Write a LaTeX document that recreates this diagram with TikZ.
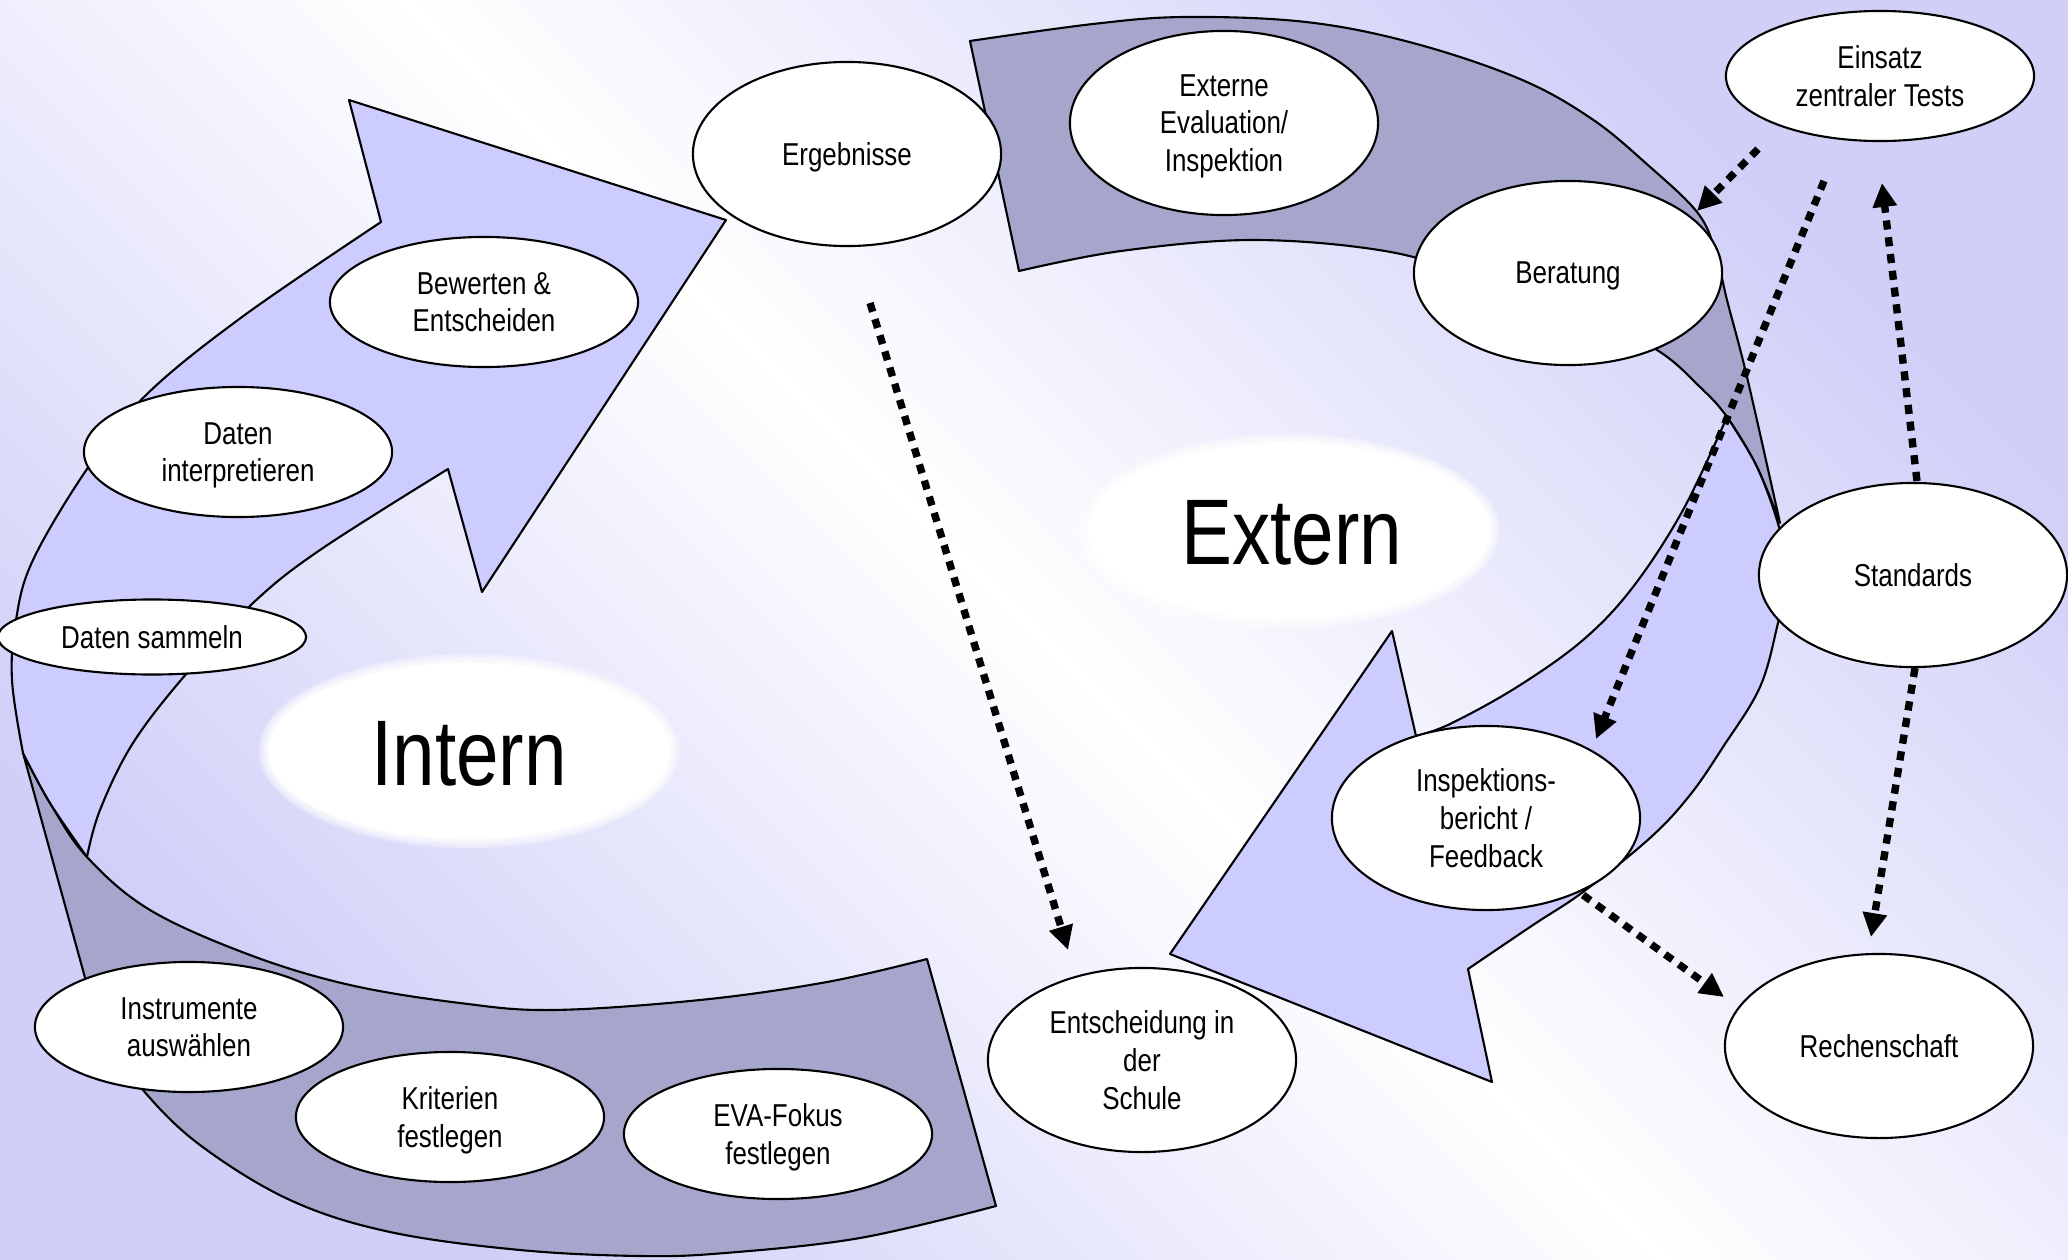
\documentclass[tikz,border=0pt]{standalone}
\usepackage{fontspec}
\setmainfont{Liberation Sans}[FakeStretch=0.82]
\usetikzlibrary{shapes.geometric,arrows.meta}
\definecolor{bandlight}{RGB}{204,204,255}
\definecolor{banddark}{RGB}{166,166,204}
\definecolor{haze}{RGB}{207,207,248}
\tikzset{
  ribbon/.style={draw=black, line width=0.6pt, line join=round},
  bub/.style={ellipse, draw=black, fill=white, line width=0.6pt, inner sep=0pt,
    align=center, minimum width=3.08cm, text depth=0pt,
    font=\fontsize{9}{10.7}\selectfont},
  tall/.style={bub, minimum height=1.84cm},
  flat/.style={bub, minimum height=1.30cm},
  slim/.style={bub, minimum height=0.75cm},
  hint/.style={line width=2.1pt, dash pattern=on 2.6pt off 2.2pt,
    -{Triangle[length=6.8pt,width=6.6pt]}},
  title/.style={font=\fontsize{26.5}{30}\selectfont},
  glow/.style={fill=white, fill opacity=0.35}
}
\begin{document}
\begin{tikzpicture}[x=0.01cm,y=-0.01cm]
\useasboundingbox (0,0) rectangle (2068,1260);
% background wash
\shade[top color=haze, bottom color=haze, middle color=white, shading angle=-45]
  (0,0) rectangle (2068,1260);

% soft white halos behind the two titles
\foreach \g in {0,...,3} {
  \fill[glow] (469,751) ellipse ({2.10cm-0.025cm*\g} and {0.97cm-0.025cm*\g});
  \fill[glow] (1289,531) ellipse ({2.10cm-0.025cm*\g} and {0.97cm-0.025cm*\g});
}
\fill[white] (469,751) ellipse (2.01cm and 0.88cm);
\fill[white] (1289,531) ellipse (2.01cm and 0.88cm);

% internal cycle: back side of the ribbon
\filldraw[ribbon, fill=banddark]
  plot[smooth, tension=0.6] coordinates {(23,753) (50,803) (87,857) (150,910) (250,955) (350,985) (460,1003) (553,1010) (700,1000) (827,982) (927,959)}
  -- (996,1206)
  -- plot[smooth, tension=0.6] coordinates {(996,1206) (860,1238) (725,1253) (640,1256) (520,1250) (390,1232) (290,1200) (200,1145) (143,1090) (110,1040) (92,1003)}
  -- cycle;
% internal cycle: front side with arrow head
\filldraw[ribbon, fill=bandlight]
  plot[smooth, tension=0.6] coordinates {(87,857) (100,810) (133,743) (187,673) (253,603) (320,550) (448,469)}
  -- (482,592) -- (726,220) -- (349,100) -- (381,222)
  -- plot[smooth, tension=0.6] coordinates {(381,222) (242,317) (145,396) (87,469) (33,560) (16,620) (12,680) (23,753)}
  -- plot[smooth, tension=0.6] coordinates {(23,753) (50,803) (87,857)}
  -- cycle;

% external cycle: back side of the ribbon
\filldraw[ribbon, fill=banddark]
  (970,41) -- (1019,271)
  -- plot[smooth, tension=0.6] coordinates {(1019,271) (1121,251) (1253,240) (1385,251) (1480,278) (1580,312) (1657,350) (1700,387) (1727,417) (1757,467) (1780,523)}
  -- plot[smooth, tension=0.6] coordinates {(1780,523) (1747,377) (1727,300) (1715,250) (1697,212) (1649,166) (1592,119) (1520,79) (1413,43) (1306,22) (1185,17) (1093,24) (970,41)}
  -- cycle;
% external cycle: front side with arrow head
\filldraw[ribbon, fill=bandlight]
  plot[smooth, tension=0.6] coordinates {(1727,417) (1757,467) (1779,527) (1788,575) (1778,623) (1760,687) (1723,747) (1690,795) (1650,838) (1583,892) (1533,925) (1468,969)}
  -- (1492,1082) -- (1170,954) -- (1392,631) -- (1416,736)
  -- plot[smooth, tension=0.6] coordinates {(1416,736) (1450,724) (1517,687) (1583,640) (1633,587) (1683,510) (1727,417)}
  -- cycle;

% titles
\node[title] (intern) at (469,754) {Intern};
\node[title] (extern) at (1292,533) {Extern};

% steps of the internal cycle
\node[tall] (erg) at (847,154) {Ergebnisse};
\node[flat] (bew) at (484,302) {Bewerten \&\\Entscheiden};
\node[flat] (dint) at (238,452) {Daten\\interpretieren};
\node[slim] (dsam) at (152,637) {Daten sammeln};
\node[flat] (instr) at (189,1027) {Instrumente\\auswählen};
\node[flat] (krit) at (450,1117) {Kriterien\\festlegen};
\node[flat] (eva) at (778,1134) {EVA-Fokus\\festlegen};

% steps of the external cycle
\node[tall] (ext) at (1224,123) {Externe\\Evaluation/\\Inspektion};
\node[tall] (ber) at (1568,273) {Beratung};
\node[tall] (insp) at (1486,818) {Inspektions-\\bericht /\\Feedback};
\node[tall] (ents) at (1142,1060) {Entscheidung in\\der\\Schule};

% surrounding frame
\node[flat] (tests) at (1880,76) {Einsatz\\zentraler Tests};
\node[tall] (std) at (1913,575) {Standards};
\node[tall] (rech) at (1879,1046) {Rechenschaft};

% loose ends of the dotted links
\coordinate (ergOut) at (870,303);
\coordinate (entsIn) at (1068,950);
\coordinate (testsOut) at (1758,149);
\coordinate (berIn) at (1697,211);
\coordinate (testsOutB) at (1824,181);
\coordinate (inspIn) at (1596,739);
\coordinate (stdUp) at (1917,481);
\coordinate (testsIn) at (1882,183);
\coordinate (stdDown) at (1915,668);
\coordinate (rechIn) at (1871,937);
\coordinate (inspOut) at (1583,895);
\coordinate (rechInB) at (1724,997);

% dotted links
\draw[hint] (ergOut) -- (entsIn);
\draw[hint] (testsOut) -- (berIn);
\draw[hint] (testsOutB) -- (inspIn);
\draw[hint] (stdUp) -- (testsIn);
\draw[hint] (stdDown) -- (rechIn);
\draw[hint] (inspOut) -- (rechInB);
\end{tikzpicture}
\end{document}
